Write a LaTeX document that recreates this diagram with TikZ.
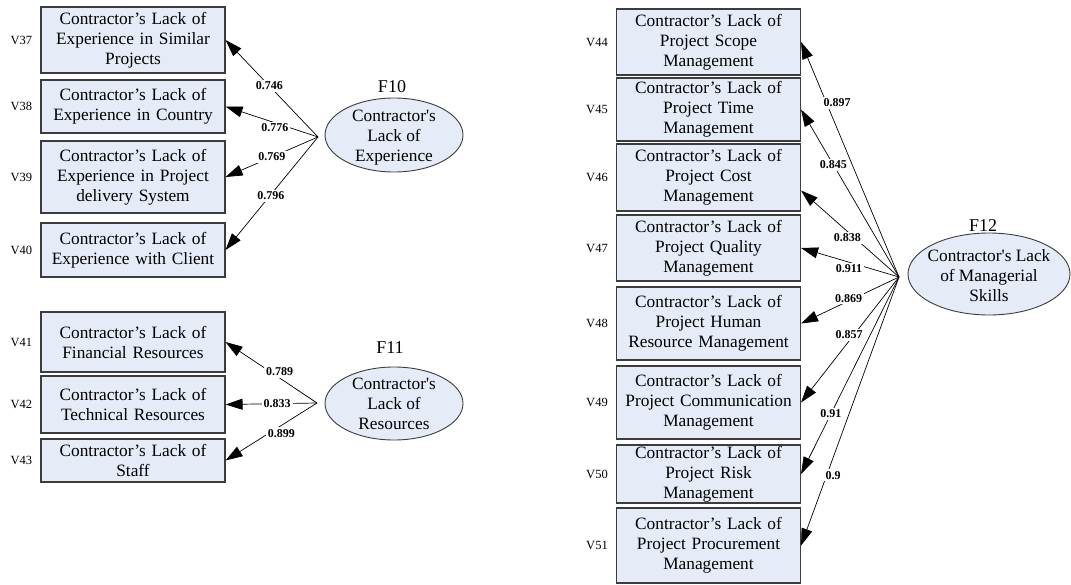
\documentclass[tikz,border=0pt]{standalone}
\usepackage{fontspec}
\setmainfont[Ligatures=TeXOff]{Liberation Serif}
\usetikzlibrary{arrows.meta,shapes.geometric,calc}
\definecolor{boxfill}{RGB}{229,235,247}
\definecolor{boxline}{RGB}{60,60,60}

\begin{document}
\begin{tikzpicture}[x=1pt,y=-1pt,
  item/.style={draw=boxline, line width=1.1pt, fill=boxfill, inner sep=0pt,
    text width=184pt, align=center, font=\fontsize{17.3}{20}\selectfont},
  factor/.style={ellipse, draw=boxline, line width=0.9pt, fill=boxfill, inner sep=0pt},
  ftext/.style={align=center, inner sep=0pt, font=\fontsize{17.3}{20}\selectfont},
  flab/.style={font=\fontsize{18}{20}\selectfont, inner sep=0pt},
  vlab/.style={font=\fontsize{12.5}{14}\selectfont, anchor=east, inner sep=0pt},
  loading/.style={draw, line width=0.7pt, -{Triangle[length=17pt,width=11pt]}},
  load/.style={fill=white, inner sep=2pt, font=\bfseries\fontsize{12}{14}\selectfont}]

\useasboundingbox (0,0) rectangle (1071,584);

% ---- indicator boxes, left column ----
\node[item, minimum height=66pt] (v37) at (133,40)    {Contractor’s Lack of\\Experience in Similar\\Projects};
\node[item, minimum height=53pt] (v38) at (133,106.5) {Contractor’s Lack of\\Experience in Country};
\node[item, minimum height=72pt] (v39) at (133,177)   {Contractor’s Lack of\\Experience in Project\\delivery System};
\node[item, minimum height=54pt] (v40) at (133,250)   {Contractor’s Lack of\\Experience with Client};
\node[item, minimum height=60pt] (v41) at (133,342)   {Contractor’s Lack of\\Financial Resources};
\node[item, minimum height=57pt] (v42) at (133,404.5) {Contractor’s Lack of\\Technical Resources};
\node[item, minimum height=43pt] (v43) at (133,460.5) {Contractor’s Lack of\\Staff};

% ---- indicator boxes, right column ----
\node[item, minimum height=66pt] (v44) at (708.5,42)    {Contractor’s Lack of\\Project Scope\\Management};
\node[item, minimum height=63pt] (v45) at (708.5,109.5) {Contractor’s Lack of\\Project Time\\Management};
\node[item, minimum height=67pt] (v46) at (708.5,177.5) {Contractor’s Lack of\\Project Cost\\Management};
\node[item, minimum height=66pt] (v47) at (708.5,248)   {Contractor’s Lack of\\Project Quality\\Management};
\node[item, minimum height=73pt] (v48) at (708.5,323.5) {Contractor’s Lack of\\Project Human\\Resource Management};
\node[item, minimum height=73pt] (v49) at (708.5,402.5) {Contractor’s Lack of\\Project Communication\\Management};
\node[item, minimum height=58pt] (v50) at (708.5,474)   {Contractor’s Lack of\\Project Risk\\Management};
\node[item, minimum height=75pt] (v51) at (708.5,545.5) {Contractor’s Lack of\\Project Procurement\\Management};

% ---- variable codes ----
\foreach \b/\t in {v37/V37,v38/V38,v39/V39,v40/V40,v41/V41,v42/V42,v43/V43,
                   v44/V44,v45/V45,v46/V46,v47/V47,v48/V48,v49/V49,v50/V50,v51/V51}
  \node[vlab] (\b code) at ([xshift=-8pt]\b.west) {\t};

% ---- latent factors ----
\node[factor, minimum width=138pt, minimum height=74pt] (f10) at (394,135) {};
\node[ftext] (f10text) at ([yshift=-3pt]f10.center) {Contractor's\\Lack of\\Experience};
\node[flab] (f10lab) at (392,87) {F10};

\node[factor, minimum width=138pt, minimum height=73pt] (f11) at (394,403.5) {};
\node[ftext] (f11text) at (f11.center) {Contractor's\\Lack of\\Resources};
\node[flab] (f11lab) at (390,348) {F11};

\node[factor, minimum width=162pt, minimum height=82pt] (f12) at (989,274) {};
\node[ftext] (f12text) at ([yshift=-1.5pt]f12.center) {Contractor's Lack\\of Managerial\\Skills};
\node[flab] (f12lab) at (983,226) {F12};

% ---- origins of the loading paths ----
\coordinate (c10) at (318,137);
\coordinate (c11) at (317,403);
\coordinate (c12) at (899,277);
\coordinate (v46in) at ($(v46.east)+(0,13)$);

% ---- loading paths ----
\foreach \t in {v37.east,v38.east,v39.east,v40.east}
  \draw[loading] (c10) -- (\t);
\foreach \t in {v41.east,v42.east,v43.east}
  \draw[loading] (c11) -- (\t);
\foreach \t in {v44.east,v45.east,v46in,v47.east,v48.east,v49.east,v50.east,v51.east}
  \draw[loading] (c12) -- (\t);

% ---- loading values, set over all paths ----
\foreach \t/\p/\v/\dx/\dy in {v37.east/0.526/0.746/0/0, v38.east/0.466/0.776/0/-5,
                              v39.east/0.499/0.769/0/0, v40.east/0.511/0.796/0/-1}
  \path (c10) -- (\t) node[load, pos=\p, xshift=\dx pt, yshift=\dy pt] {\v};
\foreach \t/\p/\v/\dx/\dy in {v41.east/0.442/0.789/3/4, v42.east/0.435/0.833/0/0,
                              v43.east/0.429/0.899/3.5/-5.5}
  \path (c11) -- (\t) node[load, pos=\p, xshift=\dx pt, yshift=\dy pt] {\v};
\foreach \t/\p/\v/\dx/\dy in {v44.east/0.7245/0.897/9/4, v45.east/0.671/0.845/0/0,
                              v46in/0.496/0.838/-3/-3.7, v47.east/0.494/0.911/-1.6/-6,
                              v48.east/0.503/0.869/-1/2, v49.east/0.479/0.857/-3/2.4,
                              v50.east/0.695/0.91/0/0, v51.east/0.731/0.9/5.6/-2}
  \path (c12) -- (\t) node[load, pos=\p, xshift=\dx pt, yshift=\dy pt] {\v};
\end{tikzpicture}
\end{document}
